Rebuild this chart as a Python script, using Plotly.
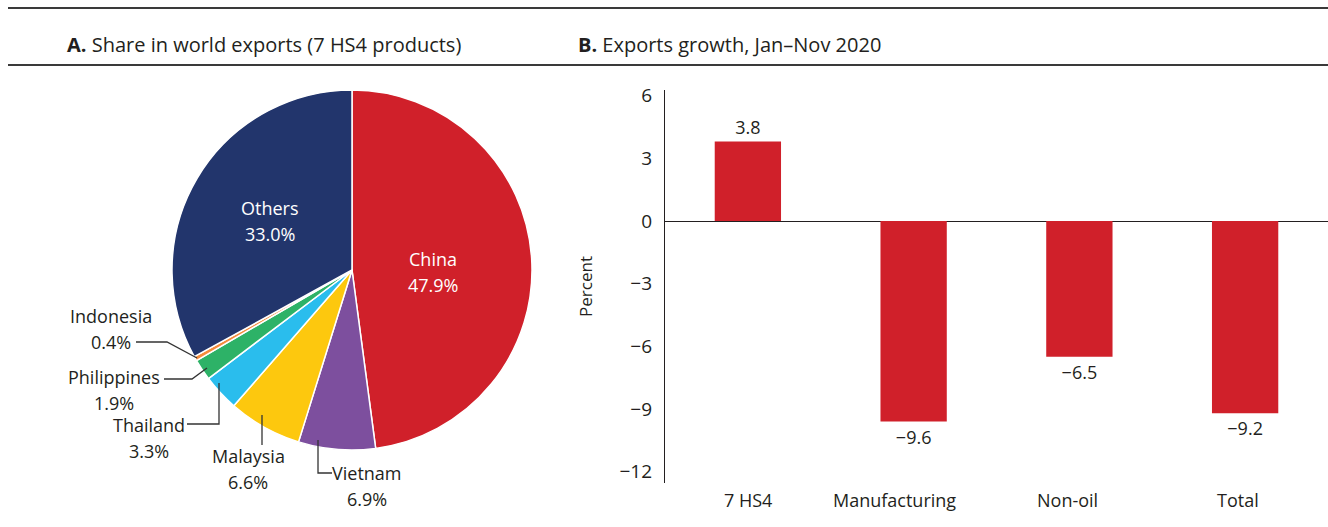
import math
import plotly.graph_objects as go

# ---------------- data ----------------
pie_labels = ["China", "Vietnam", "Malaysia", "Thailand", "Philippines", "Indonesia", "Others"]
pie_values = [47.9, 6.9, 6.6, 3.3, 1.9, 0.4, 33.0]
pie_colors = ["#D0202A", "#7D4F9E", "#FDC80E", "#2ABDED", "#2DB267", "#F58B3C", "#22356C"]

bar_categories = ["7 HS4", "Manufacturing", "Non-oil", "Total"]
bar_values = [3.8, -9.6, -6.5, -9.2]

y_tickvals = [6, 3, 0, -3, -6, -9, -12]

# ---------------- layout constants ----------------
W, H = 1328, 527
FONT = "Open Sans, Noto Sans, DejaVu Sans, sans-serif"
DARK = "#231F20"
RED = "#D0202A"
WEIGHT = 500
LINE_GAP = 13  # half distance between the two lines of a pie label


def px(x):
    return x / W


def py(y):
    return 1 - y / H


def fmt(v):
    s = f"{v:.1f}"
    return s.replace("-", "\u2212")


def fmt_int(v):
    return str(v).replace("-", "\u2212")


def font(size, color=DARK):
    return dict(family=FONT, size=size, color=color, weight=WEIGHT)


PIE_CX, PIE_CY, PIE_R = 352, 270, 180

fig = go.Figure()

fig.add_trace(go.Pie(
    labels=pie_labels,
    values=pie_values,
    sort=False,
    direction="clockwise",
    rotation=0,
    marker=dict(colors=pie_colors, line=dict(color="white", width=1.5)),
    textinfo="none",
    hoverinfo="label+percent",
    showlegend=False,
    domain=dict(x=[px(PIE_CX - PIE_R), px(PIE_CX + PIE_R)],
                y=[py(PIE_CY + PIE_R), py(PIE_CY - PIE_R)]),
))

fig.add_trace(go.Bar(
    x=bar_categories,
    y=bar_values,
    marker=dict(color=RED, line=dict(width=0)),
    width=0.4,
    text=[fmt(v) for v in bar_values],
    textposition="outside",
    textfont=font(18),
    cliponaxis=False,
    showlegend=False,
    xaxis="x", yaxis="y",
))

annotations = []
shapes = []


def two_line_label(x, y, name, pct, color, size=18):
    for t, dy in ((name, -LINE_GAP), (pct, LINE_GAP)):
        annotations.append(dict(
            x=px(x), y=py(y + dy), xref="paper", yref="paper",
            text=t, showarrow=False, font=font(size, color),
            xanchor="center", yanchor="middle"))


# inside labels for China and Others (placed along slice mid-angle)
total = sum(pie_values)
cum = 0.0
inside = {"China": (0.45, 7), "Others": (0.53, 0)}
for lab, val in zip(pie_labels, pie_values):
    mid = (cum + val / 2) / total * 2 * math.pi
    cum += val
    if lab in inside:
        rf, dy = inside[lab]
        r = rf * PIE_R
        x = PIE_CX + r * math.sin(mid)
        y = PIE_CY - r * math.cos(mid) + dy
        two_line_label(x, y, lab, f"{val:.1f}%", "white")

# outside labels with leader lines (label layout in pixels)
outside_layout = {
    "Indonesia": dict(tx=111, ty=329, path=[(136, 342), (167, 342), (197, 358)]),
    "Philippines": dict(tx=114, ty=390, path=[(164, 379), (192, 379), (207, 368)]),
    "Thailand": dict(tx=149, ty=438, path=[(187, 424), (219, 424), (219, 383)]),
    "Malaysia": dict(tx=248, ty=469, path=[(262, 445), (262, 415)]),
    "Vietnam": dict(tx=367, ty=486, path=[(332, 473), (318, 473), (318, 440)]),
}
for lab, val in zip(pie_labels, pie_values):
    if lab not in outside_layout:
        continue
    L = outside_layout[lab]
    two_line_label(L["tx"], L["ty"], lab, f"{val:.1f}%", DARK)
    pts = L["path"]
    d = "M " + " L ".join(f"{px(a):.5f},{py(b):.5f}" for a, b in pts)
    shapes.append(dict(type="path", path=d, xref="paper", yref="paper",
                       line=dict(color="#333333", width=1.3)))

# category labels (slightly offset as in the original)
cat_shift = [0, -19, -12, -7]
for c, s in zip(bar_categories, cat_shift):
    annotations.append(dict(
        x=c, y=py(500), xref="x", yref="paper", xshift=s,
        text=c, showarrow=False, font=font(18),
        xanchor="center", yanchor="middle"))

# panel titles
annotations.append(dict(
    x=px(65), y=py(44), xref="paper", yref="paper",
    text="<b>A.</b> Share in world exports (7 HS4 products)", showarrow=False,
    font=font(20), xanchor="left", yanchor="middle"))
annotations.append(dict(
    x=px(576), y=py(44), xref="paper", yref="paper",
    text="<b>B.</b> Exports growth, Jan\u2013Nov 2020", showarrow=False,
    font=font(20), xanchor="left", yanchor="middle"))

# header rules
for yy in (8, 65):
    shapes.append(dict(type="line", xref="paper", yref="paper",
                       x0=px(8), x1=1, y0=py(yy), y1=py(yy),
                       line=dict(color="#3a3a3a", width=1.8)))

fig.update_layout(
    width=W, height=H,
    margin=dict(l=0, r=0, t=0, b=0),
    paper_bgcolor="white", plot_bgcolor="white",
    font=dict(family=FONT, color=DARK),
    showlegend=False,
    xaxis=dict(domain=[px(665), 1], range=[-0.5, 3.5], showgrid=False,
               showline=False, zeroline=False, ticks="", showticklabels=False,
               anchor="y", automargin=False, fixedrange=True),
    yaxis=dict(domain=[py(483), py(90)], range=[-12.54, 6.27],
               tickvals=y_tickvals, ticktext=[fmt_int(v) for v in y_tickvals],
               showgrid=False, showline=True, linecolor=DARK, linewidth=1.3,
               zeroline=True, zerolinecolor=DARK, zerolinewidth=1.3,
               ticks="", ticklabelstandoff=8,
               tickfont=font(19),
               title=dict(text="Percent", standoff=22, font=font(17)),
               anchor="x", automargin=False, fixedrange=True),
    annotations=annotations,
    shapes=shapes,
    bargap=0.6,
)

fig.write_html(
    "out.html",
    config={"displayModeBar": False},
    post_script="document.body.style.margin='0';document.body.style.padding='0';",
)
